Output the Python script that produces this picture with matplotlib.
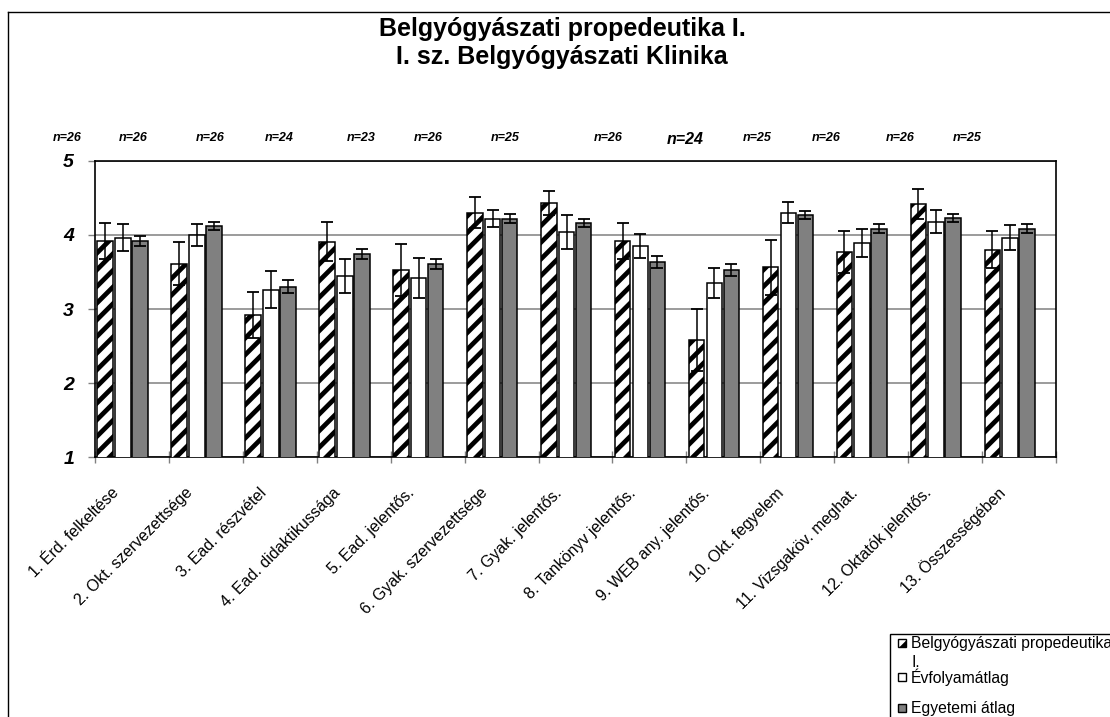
import matplotlib
matplotlib.use("Agg")
import matplotlib.pyplot as plt
import matplotlib.transforms as mtransforms
from matplotlib.patches import Rectangle
import numpy as np

plt.rcParams["font.family"] = ["Liberation Sans", "DejaVu Sans"]
plt.rcParams["hatch.linewidth"] = 3.4

categories = [
    "1. Érd. felkeltése", "2. Okt. szervezettsége", "3. Ead. részvétel",
    "4. Ead. didaktikussága", "5. Ead. jelentős.", "6. Gyak. szervezettsége",
    "7. Gyak. jelentős.", "8. Tankönyv jelentős.", "9. WEB any. jelentős.",
    "10. Okt. fegyelem", "11. Vizsgaköv. meghat.", "12. Oktatók jelentős.",
    "13. Összességében",
]
course = [3.92, 3.61, 2.92, 3.91, 3.52, 4.30, 4.43, 3.92, 2.58, 3.56, 3.77, 4.42, 3.80]
course_err = [0.24, 0.29, 0.31, 0.26, 0.35, 0.21, 0.16, 0.24, 0.42, 0.37, 0.28, 0.20, 0.25]
year_avg = [3.96, 4.00, 3.26, 3.45, 3.42, 4.22, 4.04, 3.85, 3.35, 4.30, 3.89, 4.18, 3.96]
year_err = [0.18, 0.15, 0.25, 0.23, 0.27, 0.12, 0.23, 0.16, 0.20, 0.14, 0.19, 0.15, 0.17]
univ_avg = [3.92, 4.12, 3.30, 3.74, 3.61, 4.22, 4.16, 3.63, 3.53, 4.27, 4.08, 4.23, 4.08]
univ_err = [0.07, 0.06, 0.085, 0.07, 0.07, 0.06, 0.06, 0.08, 0.08, 0.05, 0.06, 0.05, 0.06]
n_labels = ["n=26", "n=26", "n=26", "n=24", "n=23", "n=26", "n=25",
            "n=26", "n=24", "n=25", "n=26", "n=26", "n=25"]
series_names = ["Belgyógyászati propedeutika\nI.", "Évfolyamátlag", "Egyetemi átlag"]

W, H = 1110, 717
fig = plt.figure(figsize=(W / 100, H / 100), dpi=100)
ax = fig.add_axes([95 / W, 1 - 457.3 / H, (1056 - 95) / W, (457.3 - 160.7) / H])

x = np.arange(len(categories))
width = 0.21
offsets = [-0.362, -0.121, 0.109]
styles = [
    dict(facecolor="white", hatch="//"),
    dict(facecolor="white"),
    dict(facecolor="#808080"),
]
for vals, errs, off, st, name in zip([course, year_avg, univ_avg],
                                     [course_err, year_err, univ_err],
                                     offsets, styles, series_names):
    ax.bar(x + off, vals, width, edgecolor="black", linewidth=1.1, label=name,
           zorder=3, **st)
    ax.errorbar(x + off, vals, yerr=errs, fmt="none", ecolor="black",
                elinewidth=1.1, capsize=4.5, capthick=1.3, zorder=4)

ax.set_xlim(-0.5, len(categories) - 0.5)
ax.set_ylim(1, 5)
ax.set_yticks([1, 2, 3, 4, 5])
ax.set_yticklabels(["1", "2", "3", "4", "5"], fontsize=14, fontweight="bold",
                   fontstyle="italic")
ax.tick_params(axis="y", length=5, width=1, color="#808080", pad=10)
ax.yaxis.grid(True, color="#808080", linewidth=1.1, zorder=0)
ax.set_axisbelow(True)

ax.set_xticks(np.arange(len(categories) + 1) - 0.5)
ax.set_xticklabels([])
ax.tick_params(axis="x", which="major", direction="inout", length=9, width=1,
               color="#808080")
ax.set_xticks(x, categories, minor=True)
ax.tick_params(axis="x", which="minor", length=0, pad=24, labelsize=11.5)
shift = mtransforms.ScaledTranslation(-16 / 100, 0, fig.dpi_scale_trans)
for lab in ax.get_xticklabels(minor=True):
    lab.set_rotation(45)
    lab.set_rotation_mode("anchor")
    lab.set_ha("right")
    lab.set_va("center")
    lab.set_transform(lab.get_transform() + shift)

for sp in ax.spines.values():
    sp.set_linewidth(1.2)
    sp.set_color("black")

# n= annotations above plot
n_xpix = [67, 133, 210, 279, 361, 428, 505, 608, 685, 757, 826, 900, 967]
for i, (lab, px) in enumerate(zip(n_labels, n_xpix)):
    big = i == 8
    fig.text(px / W, 1 - (140 if big else 138) / H, lab, ha="center", va="center",
             fontsize=11.5 if big else 9, fontweight="bold", fontstyle="italic")

fig.text(562 / W, 1 - 43 / H,
         "Belgyógyászati propedeutika I.\nI. sz. Belgyógyászati Klinika",
         ha="center", va="center", fontsize=18, fontweight="bold", linespacing=1.2)

# outer chart frame (left and top edges)
fig.add_artist(plt.Line2D([7.5 / W, 7.5 / W], [0, 1 - 11.5 / H], transform=fig.transFigure,
                          color="black", linewidth=1.0))
fig.add_artist(plt.Line2D([7.5 / W, 1], [1 - 11.5 / H, 1 - 11.5 / H], transform=fig.transFigure,
                          color="black", linewidth=1.0))

# legend box, clipped by the figure edge like the original
fig.add_artist(Rectangle((890 / W, -0.05), 0.2, 1 - 634 / H + 0.05,
                         transform=fig.transFigure, facecolor="white",
                         edgecolor="black", linewidth=1.0))
key_y = [643, 677, 708]
text_y = [653, 677, 708]
for st, name, ky, ty in zip(styles, series_names, key_y, text_y):
    fig.add_artist(Rectangle((898 / W, 1 - (ky + 4) / H), 8 / W, 8 / H,
                             transform=fig.transFigure, edgecolor="black",
                             linewidth=1.0, **st))
    fig.text(911 / W, 1 - ty / H, name, ha="left", va="center", fontsize=11.3,
             linespacing=1.4)

fig.savefig("out.png", dpi=100)
